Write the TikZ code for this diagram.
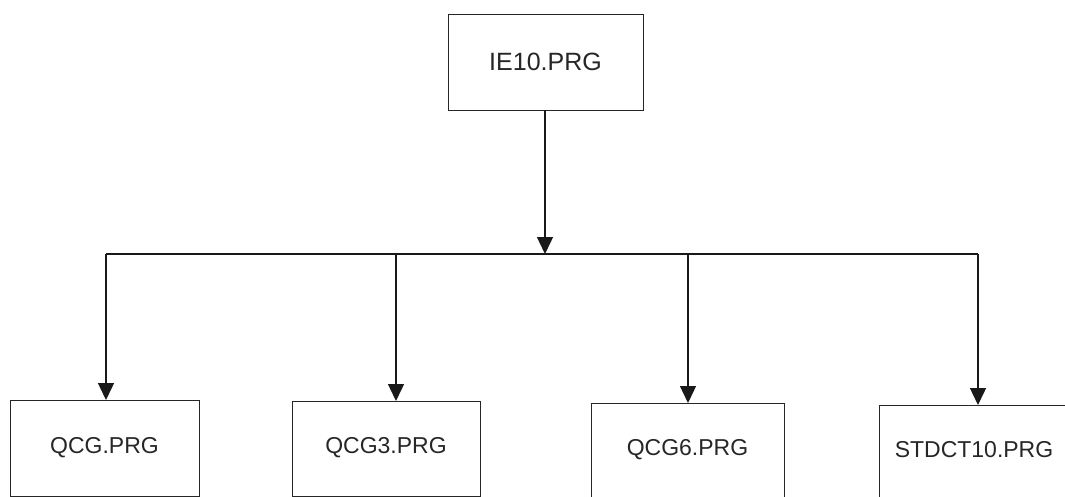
\documentclass[tikz,border=0pt]{standalone}
\usepackage{fontspec}
\setmainfont{Liberation Sans}
\usetikzlibrary{arrows.meta}
\begin{document}
\begin{tikzpicture}[x=1pt,y=-1pt,
  box/.style={draw=black!85,line width=0.9pt,fill=none,inner sep=0pt},
  conn/.style={draw=black!90,line width=1.4pt},
  arr/.style={conn,-{Triangle[length=17pt,width=16pt]}},
  lbltop/.style={font=\fontsize{25}{30}\selectfont,text=black!85},
  lblbot/.style={font=\fontsize{23}{28}\selectfont,text=black!85}]
\useasboundingbox (0,0) rectangle (1065,497);
\clip (0,0) rectangle (1065,497);
% top box
\node[box,minimum width=195pt,minimum height=96pt,lbltop] (top) at (545.5,62) {IE10.PRG};
% bottom boxes
\node[box,minimum width=189pt,minimum height=96pt,anchor=north west] (b1) at (10,400) {};
\node[box,minimum width=188pt,minimum height=95pt,anchor=north west] (b2) at (292,401) {};
\node[box,minimum width=193pt,minimum height=94pt,anchor=north west] (b3) at (591,403) {};
\node[box,draw=none,minimum width=190pt,minimum height=92pt,anchor=north west] (b4) at (879,405) {};
\draw[draw=black!85,line width=0.9pt] (b4.south west) -- (b4.north west) -- (b4.north east);
\node[lblbot] (t1) at (104.5,448) {QCG.PRG};
\node[lblbot] (t2) at (386,448) {QCG3.PRG};
\node[lblbot] (t3) at (687.5,450) {QCG6.PRG};
\node[lblbot] (t4) at (974,450) {STDCT10.PRG};
% connectors
\coordinate (hub) at (545,254);
\coordinate (hl) at (106,254);
\coordinate (hr) at (978,254);
\coordinate (j2) at (396,254);
\coordinate (j3) at (688,254);
\draw[arr] (top.south -| hub) -- (hub);
\draw[conn] (hl) -- (hr);
\draw[arr] (hl) -- (hl |- b1.north);
\draw[arr] (j2) -- (j2 |- b2.north);
\draw[arr] (j3) -- (j3 |- b3.north);
\draw[arr] (hr) -- (hr |- b4.north);
\end{tikzpicture}
\end{document}
